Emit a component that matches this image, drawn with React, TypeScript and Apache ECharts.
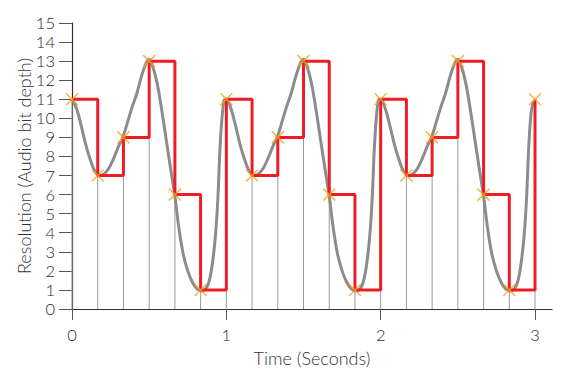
import React, { useEffect, useRef } from "react";
import * as echarts from "echarts";

const sampleTimes = [0, 0.1667, 0.3333, 0.5, 0.6667, 0.8333, 1, 1.1667, 1.3333, 1.5, 1.6667, 1.8333, 2, 2.1667, 2.3333, 2.5, 2.6667, 2.8333, 3];
const sampleValues = [11, 7, 9, 13, 6, 1, 11, 7, 9, 13, 6, 1, 11, 7, 9, 13, 6, 1, 11];

const curveTimes = [
  0, 0.03, 0.06, 0.09, 0.12, 0.15, 0.18, 0.21, 0.24, 0.27, 0.3, 0.333, 0.36, 0.39, 0.42, 0.45, 0.48, 0.5, 0.52, 0.55, 0.58, 0.61, 0.64, 0.667, 0.69, 0.72, 0.75, 0.78, 0.81, 0.84, 0.87, 0.89, 0.91, 0.93, 0.945, 0.96, 0.975, 0.99,
  1, 1.03, 1.06, 1.09, 1.12, 1.15, 1.18, 1.21, 1.24, 1.27, 1.3, 1.333, 1.36, 1.39, 1.42, 1.45, 1.48, 1.5, 1.52, 1.55, 1.58, 1.61, 1.64, 1.667, 1.69, 1.72, 1.75, 1.78, 1.81, 1.84, 1.87, 1.89, 1.91, 1.93, 1.945, 1.96, 1.975, 1.99,
  2, 2.03, 2.06, 2.09, 2.12, 2.15, 2.18, 2.21, 2.24, 2.27, 2.3, 2.333, 2.36, 2.39, 2.42, 2.45, 2.48, 2.5, 2.52, 2.55, 2.58, 2.61, 2.64, 2.667, 2.69, 2.72, 2.75, 2.78, 2.81, 2.84, 2.87, 2.89, 2.91, 2.93, 2.945, 2.96, 2.975, 2.99,
];
const curveValues = [
  11.0, 10.5, 9.6, 8.6, 7.8, 7.2, 7.0, 7.1, 7.4, 7.9, 8.5, 9.1, 9.8, 10.6, 11.3, 12.2, 12.9, 13.1, 12.8, 11.9, 10.5, 8.9, 7.3, 5.9, 4.4, 2.9, 2.0, 1.4, 1.05, 0.95, 1.1, 1.5, 2.4, 3.9, 5.8, 8.6, 10.3, 11.0,
  11.0, 10.5, 9.6, 8.6, 7.8, 7.2, 7.0, 7.1, 7.4, 7.9, 8.5, 9.1, 9.8, 10.6, 11.3, 12.2, 12.9, 13.1, 12.8, 11.9, 10.5, 8.9, 7.3, 5.9, 4.4, 2.9, 2.0, 1.4, 1.05, 0.95, 1.1, 1.5, 2.4, 3.9, 5.8, 8.6, 10.3, 11.0,
  11.0, 10.5, 9.6, 8.6, 7.8, 7.2, 7.0, 7.1, 7.4, 7.9, 8.5, 9.1, 9.8, 10.6, 11.3, 12.2, 12.9, 13.1, 12.8, 11.9, 10.5, 8.9, 7.3, 5.9, 4.4, 2.9, 2.0, 1.4, 1.05, 0.95, 1.1, 1.5, 2.4, 3.9, 5.8, 8.6, 10.3, 10.9,
];

const xTickValues = [0, 1, 2, 3];
const xAxisName = "Time (Seconds)";
const yAxisName = "Resolution (Audio bit depth)";

export default function App() {
  const ref = useRef<HTMLDivElement>(null);
  useEffect(() => {
    if (!ref.current) return;
    const chart = echarts.init(ref.current, null, { renderer: "svg" });
    const samples = sampleTimes.map((t, i) => [t, sampleValues[i]]);
    const curve = curveTimes.map((t, i) => [t, curveValues[i]]);
    const font = "Lato, 'Open Sans', sans-serif";
    chart.setOption({
      animation: false,
      textStyle: { fontFamily: font },
      grid: { left: 72, right: 14, top: 23, bottom: 68, containLabel: false, outerBoundsMode: "none" },
      xAxis: {
        type: "value",
        min: 0,
        max: 3.11,
        interval: 1,
        name: xAxisName,
        nameLocation: "middle",
        nameGap: 40,
        nameMoveOverlap: false,
        nameTextStyle: { fontSize: 18, color: "#333", fontFamily: font, fontWeight: 300 },
        axisLine: { show: true, lineStyle: { color: "#333", width: 1.2 } },
        axisTick: { show: true, length: 11, customValues: xTickValues, lineStyle: { color: "#555" } },
        axisLabel: {
          fontSize: 16.5,
          color: "#2a2a2a",
          margin: 17,
          fontFamily: font,
          fontWeight: 300,
          customValues: xTickValues,
          formatter: (v: number) => (Number.isInteger(v) ? String(v) : ""),
        },
        splitLine: { show: false },
      },
      yAxis: {
        type: "value",
        min: 0,
        max: 15,
        interval: 1,
        name: yAxisName,
        nameLocation: "middle",
        nameGap: 39,
        nameMoveOverlap: false,
        nameTextStyle: { fontSize: 18, color: "#333", fontFamily: font, fontWeight: 300 },
        axisLine: { show: true, lineStyle: { color: "#333", width: 1.2 } },
        axisTick: { show: true, length: 13, lineStyle: { color: "#555" } },
        axisLabel: { fontSize: 16.5, color: "#2a2a2a", margin: 17, fontFamily: font, fontWeight: 300 },
        splitLine: { show: false },
      },
      series: [
        {
          type: "custom",
          data: samples,
          z: 1,
          renderItem: (params: any, api: any) => {
            const t = api.value(0);
            const v = api.value(1);
            const p0 = api.coord([t, 0]);
            const p1 = api.coord([t, v]);
            return {
              type: "line",
              shape: { x1: p0[0], y1: p0[1], x2: p1[0], y2: p1[1] },
              style: { stroke: "#9a9a9a", lineWidth: 1 },
            };
          },
        },
        {
          type: "line",
          data: curve,
          smooth: 0.4,
          showSymbol: false,
          z: 2,
          lineStyle: { color: "#8c8c8c", width: 3 },
        },
        {
          type: "line",
          data: samples,
          step: "end",
          showSymbol: false,
          z: 3,
          lineStyle: { color: "#ee1c25", width: 3 },
        },
        {
          type: "scatter",
          data: samples,
          symbol: "path://M0,0L10,10M10,0L0,10",
          symbolSize: 12,
          z: 4,
          itemStyle: { color: "rgba(0,0,0,0)", borderColor: "#f7a21b", borderWidth: 1.5 },
        },
      ],
    });
    return () => chart.dispose();
  }, []);
  return <div ref={ref} style={{ width: 566, height: 377, marginLeft: -8, marginTop: -8 }} />;
}
